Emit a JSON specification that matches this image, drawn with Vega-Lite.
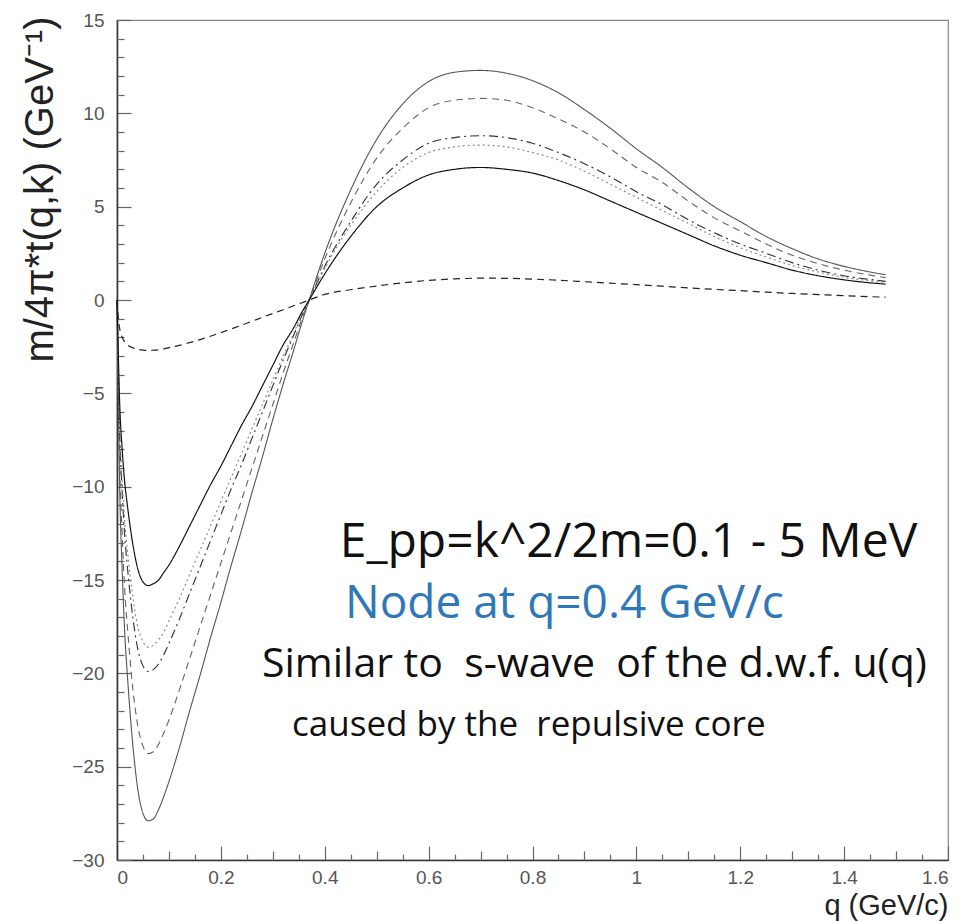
{
  "$schema": "https://vega.github.io/schema/vega-lite/v6.json",
  "width": 831,
  "height": 840,
  "autosize": "none",
  "padding": {"left": 117, "top": 20, "right": 17, "bottom": 61},
  "background": "white",
  "config": {
    "view": {"stroke": "#888", "strokeWidth": 1.2},
    "axis": {
      "grid": false,
      "zindex": 1,
      "ticks": true,
      "labelFont": "Liberation Sans",
      "labelFontSize": 19,
      "labelColor": "#555",
      "titleFont": "Liberation Sans",
      "titleFontWeight": "normal",
      "titleColor": "#222",
      "domainColor": "#333",
      "tickColor": "#666",
      "tickWidth": 1.2
    }
  },
  "data": {
    "values": [
      {"q": 0, "c6": 0, "c5": 0, "c4": 0, "c3": 0, "c2": 0, "c1": 0},
      {"q": 0.002, "c6": -4.2, "c5": -3.6, "c4": -3.0, "c3": -2.8, "c2": -2.3, "c1": -0.8},
      {"q": 0.005, "c6": -9.8, "c5": -8.5, "c4": -7.0, "c3": -6.5, "c2": -5.4, "c1": -1.5},
      {"q": 0.01, "c6": -14.5, "c5": -12.6, "c4": -10.3, "c3": -9.7, "c2": -8.0, "c1": -2.0},
      {"q": 0.015, "c6": -17.9, "c5": -15.6, "c4": -12.7, "c3": -11.9, "c2": -9.8, "c1": -2.25},
      {"q": 0.02, "c6": -20.1, "c5": -17.5, "c4": -14.3, "c3": -13.4, "c2": -11.0, "c1": -2.4},
      {"q": 0.03, "c6": -23.7, "c5": -20.7, "c4": -16.9, "c3": -15.8, "c2": -13.0, "c1": -2.55},
      {"q": 0.04, "c6": -26.2, "c5": -22.8, "c4": -18.7, "c3": -17.5, "c2": -14.4, "c1": -2.64},
      {"q": 0.05, "c6": -27.5, "c5": -23.9, "c4": -19.6, "c3": -18.3, "c2": -15.1, "c1": -2.68},
      {"q": 0.06, "c6": -27.9, "c5": -24.3, "c4": -19.9, "c3": -18.6, "c2": -15.3, "c1": -2.7},
      {"q": 0.07, "c6": -27.8, "c5": -24.2, "c4": -19.8, "c3": -18.5, "c2": -15.2, "c1": -2.69},
      {"q": 0.08, "c6": -27.3, "c5": -23.8, "c4": -19.5, "c3": -18.2, "c2": -15.0, "c1": -2.67},
      {"q": 0.09, "c6": -26.6, "c5": -23.2, "c4": -19.0, "c3": -17.8, "c2": -14.6, "c1": -2.62},
      {"q": 0.1, "c6": -25.8, "c5": -22.5, "c4": -18.4, "c3": -17.2, "c2": -14.2, "c1": -2.55},
      {"q": 0.12, "c6": -24.0, "c5": -20.9, "c4": -17.1, "c3": -16.0, "c2": -13.2, "c1": -2.43},
      {"q": 0.14, "c6": -22.0, "c5": -19.2, "c4": -15.7, "c3": -14.7, "c2": -12.1, "c1": -2.28},
      {"q": 0.16, "c6": -20.1, "c5": -17.5, "c4": -14.3, "c3": -13.4, "c2": -11.0, "c1": -2.12},
      {"q": 0.18, "c6": -18.1, "c5": -15.8, "c4": -12.9, "c3": -12.1, "c2": -9.9, "c1": -1.94},
      {"q": 0.2, "c6": -16.2, "c5": -14.1, "c4": -11.5, "c3": -10.8, "c2": -8.9, "c1": -1.75},
      {"q": 0.22, "c6": -14.2, "c5": -12.4, "c4": -10.1, "c3": -9.5, "c2": -7.8, "c1": -1.55},
      {"q": 0.24, "c6": -12.3, "c5": -10.7, "c4": -8.8, "c3": -8.2, "c2": -6.7, "c1": -1.35},
      {"q": 0.26, "c6": -10.3, "c5": -9.0, "c4": -7.4, "c3": -6.9, "c2": -5.7, "c1": -1.14},
      {"q": 0.28, "c6": -8.4, "c5": -7.3, "c4": -6.0, "c3": -5.6, "c2": -4.6, "c1": -0.93},
      {"q": 0.3, "c6": -6.4, "c5": -5.6, "c4": -4.6, "c3": -4.3, "c2": -3.5, "c1": -0.72},
      {"q": 0.32, "c6": -4.5, "c5": -3.9, "c4": -3.2, "c3": -3.0, "c2": -2.4, "c1": -0.52},
      {"q": 0.34, "c6": -2.7, "c5": -2.3, "c4": -1.9, "c3": -1.8, "c2": -1.5, "c1": -0.31},
      {"q": 0.355, "c6": -1.3, "c5": -1.1, "c4": -0.9, "c3": -0.8, "c2": -0.7, "c1": -0.16},
      {"q": 0.37, "c6": 0, "c5": 0, "c4": 0, "c3": 0, "c2": 0, "c1": 0},
      {"q": 0.4, "c6": 2.5, "c5": 2.2, "c4": 1.8, "c3": 1.7, "c2": 1.4, "c1": 0.3},
      {"q": 0.45, "c6": 5.9, "c5": 5.2, "c4": 4.2, "c3": 4.0, "c2": 3.4, "c1": 0.55},
      {"q": 0.5, "c6": 8.6, "c5": 7.6, "c4": 6.2, "c3": 5.8, "c2": 5.0, "c1": 0.75},
      {"q": 0.55, "c6": 10.5, "c5": 9.2, "c4": 7.5, "c3": 7.1, "c2": 6.0, "c1": 0.92},
      {"q": 0.6, "c6": 11.7, "c5": 10.3, "c4": 8.4, "c3": 7.9, "c2": 6.7, "c1": 1.05},
      {"q": 0.65, "c6": 12.2, "c5": 10.7, "c4": 8.7, "c3": 8.2, "c2": 7.0, "c1": 1.13},
      {"q": 0.7, "c6": 12.3, "c5": 10.8, "c4": 8.8, "c3": 8.3, "c2": 7.1, "c1": 1.17},
      {"q": 0.75, "c6": 12.15, "c5": 10.7, "c4": 8.7, "c3": 8.2, "c2": 7.0, "c1": 1.16},
      {"q": 0.8, "c6": 11.75, "c5": 10.3, "c4": 8.4, "c3": 7.9, "c2": 6.8, "c1": 1.12},
      {"q": 0.85, "c6": 11.1, "c5": 9.7, "c4": 7.9, "c3": 7.5, "c2": 6.4, "c1": 1.06},
      {"q": 0.9, "c6": 10.2, "c5": 9.0, "c4": 7.3, "c3": 6.9, "c2": 5.9, "c1": 0.98},
      {"q": 0.95, "c6": 9.2, "c5": 8.1, "c4": 6.6, "c3": 6.2, "c2": 5.3, "c1": 0.9},
      {"q": 1.0, "c6": 8.1, "c5": 7.1, "c4": 5.8, "c3": 5.5, "c2": 4.7, "c1": 0.82},
      {"q": 1.05, "c6": 7.1, "c5": 6.3, "c4": 5.1, "c3": 4.8, "c2": 4.1, "c1": 0.74},
      {"q": 1.1, "c6": 6.0, "c5": 5.3, "c4": 4.3, "c3": 4.1, "c2": 3.5, "c1": 0.65},
      {"q": 1.15, "c6": 5.0, "c5": 4.4, "c4": 3.6, "c3": 3.4, "c2": 2.9, "c1": 0.57},
      {"q": 1.2, "c6": 4.2, "c5": 3.7, "c4": 3.0, "c3": 2.8, "c2": 2.4, "c1": 0.5},
      {"q": 1.25, "c6": 3.4, "c5": 3.0, "c4": 2.5, "c3": 2.3, "c2": 2.0, "c1": 0.42},
      {"q": 1.3, "c6": 2.75, "c5": 2.4, "c4": 2.0, "c3": 1.85, "c2": 1.6, "c1": 0.35},
      {"q": 1.35, "c6": 2.2, "c5": 1.95, "c4": 1.6, "c3": 1.5, "c2": 1.3, "c1": 0.29},
      {"q": 1.4, "c6": 1.8, "c5": 1.6, "c4": 1.3, "c3": 1.22, "c2": 1.08, "c1": 0.23},
      {"q": 1.45, "c6": 1.5, "c5": 1.33, "c4": 1.1, "c3": 1.03, "c2": 0.92, "c1": 0.18},
      {"q": 1.48, "c6": 1.35, "c5": 1.2, "c4": 1.0, "c3": 0.95, "c2": 0.85, "c1": 0.15}
    ]
  },
  "layer": [
    {
      "transform": [{"fold": ["c6", "c5", "c4", "c3", "c2", "c1"], "as": ["series", "v"]}],
      "mark": {"type": "line", "interpolate": "monotone"},
      "encoding": {
        "x": {
          "field": "q", "type": "quantitative",
          "scale": {"domain": [0, 1.6], "nice": false, "zero": false},
          "axis": {
            "values": [0, 0.2, 0.4, 0.6, 0.8, 1, 1.2, 1.4, 1.6],
            "format": "~g",
            "ticks": true,
            "tickSize": -14,
            "labelPadding": 22,
            "domainWidth": 1.6,
            "title": "q (GeV/c)",
            "titleFontSize": 29,
            "titleAnchor": "end",
            "titleBaseline": "alphabetic",
            "titleY": 54
          }
        },
        "y": {
          "field": "v", "type": "quantitative",
          "scale": {"domain": [-30, 15], "nice": false, "zero": false},
          "axis": {
            "values": [-30, -25, -20, -15, -10, -5, 0, 5, 10, 15],
            "ticks": true,
            "tickSize": -14,
            "labelPadding": 27,
            "domainWidth": 1.6,
            "title": "m/4π*t(q,k) (GeV⁻¹)",
            "titleFontSize": 40,
            "titleAnchor": "end",
            "titleAlign": "right",
            "titleAngle": -90,
            "titleBaseline": "middle",
            "titleX": -77,
            "titleY": -4
          }
        },
        "detail": {"field": "series", "type": "nominal"},
        "strokeDash": {
          "field": "series", "type": "nominal",
          "scale": {"domain": ["c6", "c5", "c4", "c3", "c2", "c1"], "range": [[1, 0], [7, 5], [9, 4, 2, 4], [2, 3], [1, 0], [7, 5]]},
          "legend": null
        },
        "strokeWidth": {
          "field": "series", "type": "nominal",
          "scale": {"domain": ["c6", "c5", "c4", "c3", "c2", "c1"], "range": [1.1, 1.2, 1.4, 1.3, 2.6, 2.6]},
          "legend": null
        },
        "color": {
          "field": "series", "type": "nominal",
          "scale": {"domain": ["c6", "c5", "c4", "c3", "c2", "c1"], "range": ["#555555", "#666666", "#333333", "#888888", "#111111", "#222222"]},
          "legend": null
        }
      }
    },
    {
      "mark": {"type": "point", "opacity": 0},
      "encoding": {
        "x": {
          "field": "q", "type": "quantitative",
          "axis": {"values": [0.1, 0.3, 0.5, 0.7, 0.9, 1.1, 1.3, 1.5], "labels": false, "domain": false, "ticks": true, "tickSize": -9, "title": null, "orient": "bottom"}
        },
        "y": {
          "field": "c5", "type": "quantitative",
          "axis": {"values": [-29, -28, -27, -26, -24, -23, -22, -21, -19, -18, -17, -16, -14, -13, -12, -11, -9, -8, -7, -6, -4, -3, -2, -1, 1, 2, 3, 4, 6, 7, 8, 9, 11, 12, 13, 14], "labels": false, "domain": false, "ticks": true, "tickSize": -7, "title": null, "orient": "left"}
        }
      }
    },
    {
      "mark": {"type": "point", "opacity": 0},
      "encoding": {
        "x": {
          "field": "q", "type": "quantitative",
          "axis": {"values": [0.05, 0.15, 0.25, 0.35, 0.45, 0.55, 0.65, 0.75, 0.85, 0.95, 1.05, 1.15, 1.25, 1.35, 1.45, 1.55], "labels": false, "domain": false, "ticks": true, "tickSize": -6, "title": null, "orient": "bottom"}
        },
        "y": {"field": "c4", "type": "quantitative", "axis": null}
      }
    },
    {
      "data": {"values": [{}]},
      "mark": {"type": "text", "align": "left", "baseline": "middle", "font": "Open Sans", "fontWeight": 400, "fontSize": 48, "color": "#111"},
      "encoding": {
        "x": {"datum": 0.429, "type": "quantitative", "axis": null},
        "y": {"datum": -13.0, "type": "quantitative", "axis": null},
        "text": {"value": "E_pp=k^2/2m=0.1 - 5 MeV"}
      }
    },
    {
      "data": {"values": [{}]},
      "mark": {"type": "text", "align": "left", "baseline": "middle", "font": "Open Sans", "fontWeight": 400, "fontSize": 46, "color": "#2F78B8"},
      "encoding": {
        "x": {"datum": 0.439, "type": "quantitative", "axis": null},
        "y": {"datum": -16.3, "type": "quantitative", "axis": null},
        "text": {"value": "Node at q=0.4 GeV/c"}
      }
    },
    {
      "data": {"values": [{}]},
      "mark": {"type": "text", "align": "left", "baseline": "middle", "font": "Open Sans", "fontWeight": 400, "fontSize": 41, "color": "#111"},
      "encoding": {
        "x": {"datum": 0.279, "type": "quantitative", "axis": null},
        "y": {"datum": -19.55, "type": "quantitative", "axis": null},
        "text": {"value": "Similar to \u00a0s-wave \u00a0of the d.w.f. u(q)"}
      }
    },
    {
      "data": {"values": [{}]},
      "mark": {"type": "text", "align": "left", "baseline": "middle", "font": "Open Sans", "fontWeight": 400, "fontSize": 35, "color": "#111"},
      "encoding": {
        "x": {"datum": 0.337, "type": "quantitative", "axis": null},
        "y": {"datum": -22.77, "type": "quantitative", "axis": null},
        "text": {"value": "caused by the \u00a0repulsive core"}
      }
    }
  ],
  "resolve": {"axis": {"x": "independent", "y": "independent"}}
}
